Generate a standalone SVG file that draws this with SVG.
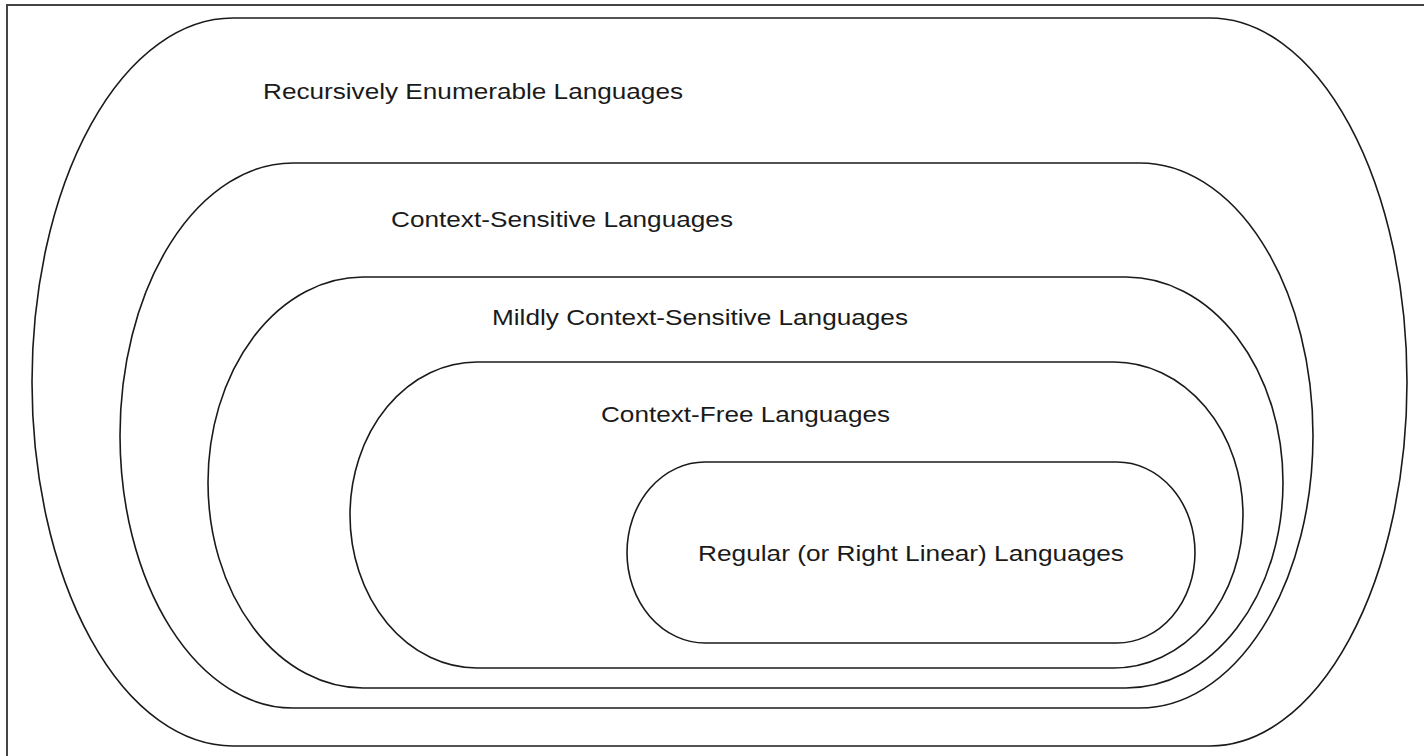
<svg xmlns="http://www.w3.org/2000/svg" width="1424" height="756" viewBox="0 0 1424 756">
<style>
.shape{fill:none;stroke:#1a1a1a;stroke-width:1.6}
.frame{fill:none;stroke:#444;stroke-width:2}
.lbl{font-family:"Liberation Sans",Arial,Helvetica,sans-serif;font-size:22px;fill:#1a1a1a}
</style>
<rect width="1424" height="756" fill="#ffffff"/>
<path class="frame" d="M7,756 V5 H1424"/>
<g id="recursively-enumerable">
<path class="shape" d="M233,18 H1210 A197,364 0 0 1 1210,746 H233 A201,364 0 0 1 233,18 Z"/>
<text class="lbl" x="263" y="99" textLength="420" lengthAdjust="spacingAndGlyphs">Recursively Enumerable Languages</text>
</g>
<g id="context-sensitive">
<path class="shape" d="M293,163 H1140 A173,272.5 0 0 1 1140,708 H293 A173,272.5 0 0 1 293,163 Z"/>
<text class="lbl" x="391" y="227" textLength="342" lengthAdjust="spacingAndGlyphs">Context-Sensitive Languages</text>
</g>
<g id="mildly-context-sensitive">
<path class="shape" d="M363,277 H1126 A157,205.5 0 0 1 1126,688 H363 A155,205.5 0 0 1 363,277 Z"/>
<text class="lbl" x="492" y="325" textLength="416" lengthAdjust="spacingAndGlyphs">Mildly Context-Sensitive Languages</text>
</g>
<g id="context-free">
<path class="shape" d="M477,362 H1114 A129,153 0 0 1 1114,668 H477 A127,153 0 0 1 477,362 Z"/>
<text class="lbl" x="601" y="422" textLength="289" lengthAdjust="spacingAndGlyphs">Context-Free Languages</text>
</g>
<g id="regular">
<path class="shape" d="M705,462 H1117 A78,90.5 0 0 1 1117,643 H705 A78,90.5 0 0 1 705,462 Z"/>
<text class="lbl" x="698" y="561" textLength="426" lengthAdjust="spacingAndGlyphs">Regular (or Right Linear) Languages</text>
</g>
<g id="connectors"></g>
</svg>
